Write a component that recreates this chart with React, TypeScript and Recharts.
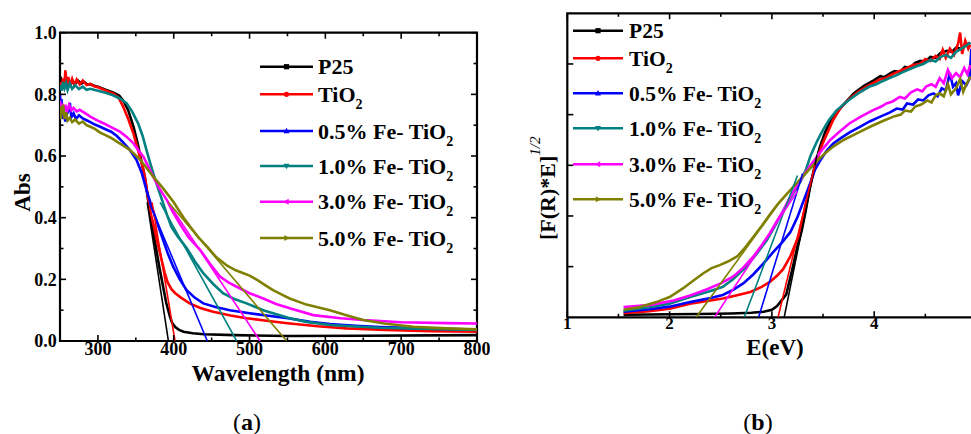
import { Line, LineChart, ReferenceArea, ReferenceLine, XAxis, YAxis } from "recharts";

const SERIF = "'Liberation Serif', 'Times New Roman', serif";

// ---- panel (a): absorbance vs wavelength (nm) ----
const ABS_P25 = [
  [250, 0.83], [252, 0.845], [254, 0.826], [256, 0.842], [258, 0.83], [261, 0.846], [264, 0.832], [267, 0.843],
  [270, 0.834], [274, 0.844], [278, 0.835], [282, 0.84], [286, 0.832], [290, 0.833], [295, 0.828], [300, 0.825],
  [310, 0.815], [320, 0.806], [328, 0.796], [334, 0.778], [340, 0.748], [347, 0.695], [353, 0.635], [358, 0.575],
  [362, 0.53], [366, 0.46], [369, 0.41], [372, 0.37], [376, 0.31], [381, 0.24], [386, 0.176], [390, 0.125],
  [395, 0.079], [398, 0.058], [402, 0.045], [407, 0.036], [413, 0.03], [425, 0.025], [440, 0.022], [480, 0.019],
  [550, 0.016], [650, 0.017], [800, 0.019],
];
const ABS_TIO2 = [
  [250, 0.84], [252, 0.82], [254, 0.852], [256, 0.83], [257, 0.878], [259, 0.832], [261, 0.856], [263, 0.828],
  [266, 0.85], [269, 0.83], [272, 0.848], [276, 0.832], [280, 0.845], [285, 0.83], [290, 0.834], [295, 0.826],
  [300, 0.823], [310, 0.813], [320, 0.803], [327, 0.79], [333, 0.762], [340, 0.72], [347, 0.672], [351, 0.636],
  [355, 0.6], [359, 0.565], [362, 0.533], [366, 0.468], [370, 0.41], [374, 0.37], [379, 0.315], [384, 0.263],
  [388, 0.222], [392, 0.19], [397, 0.168], [402, 0.155], [410, 0.14], [421, 0.122], [435, 0.107], [452, 0.095],
  [475, 0.083], [496, 0.074], [525, 0.065], [553, 0.057], [590, 0.048], [628, 0.041], [680, 0.036], [740, 0.032],
  [800, 0.03],
];
const ABS_FE05 = [
  [250, 0.8], [251, 0.74], [252, 0.785], [253, 0.72], [255, 0.745], [257, 0.712], [259, 0.735], [261, 0.748],
  [263, 0.772], [265, 0.726], [268, 0.738], [271, 0.72], [275, 0.732], [280, 0.722], [285, 0.716], [290, 0.71],
  [296, 0.702], [303, 0.695], [310, 0.687], [318, 0.678], [325, 0.665], [333, 0.645], [342, 0.62], [351, 0.587],
  [358, 0.544], [364, 0.49], [371, 0.436], [377, 0.392], [385, 0.335], [392, 0.285], [399, 0.243], [408, 0.2],
  [417, 0.165], [428, 0.14], [439, 0.122], [455, 0.11], [474, 0.1], [500, 0.09], [530, 0.08], [553, 0.073],
  [580, 0.062], [606, 0.055], [640, 0.049], [672, 0.045], [740, 0.04], [800, 0.037],
];
const ABS_FE10 = [
  [250, 0.83], [252, 0.812], [254, 0.84], [256, 0.82], [258, 0.836], [260, 0.814], [263, 0.835], [266, 0.818],
  [270, 0.83], [275, 0.817], [280, 0.825], [285, 0.815], [290, 0.818], [300, 0.812], [310, 0.805], [320, 0.797],
  [330, 0.785], [338, 0.771], [345, 0.745], [353, 0.706], [359, 0.665], [364, 0.62], [368, 0.585], [373, 0.544],
  [380, 0.49], [386, 0.447], [391, 0.41], [397, 0.37], [405, 0.34], [417, 0.302], [428, 0.258], [439, 0.22],
  [452, 0.185], [465, 0.155], [480, 0.136], [496, 0.122], [520, 0.098], [553, 0.074], [575, 0.062], [606, 0.052],
  [640, 0.047], [672, 0.043], [720, 0.04], [800, 0.036],
];
const ABS_FE30 = [
  [250, 0.78], [251, 0.73], [253, 0.77], [255, 0.745], [257, 0.766], [259, 0.742], [262, 0.766], [265, 0.748],
  [268, 0.756], [272, 0.745], [276, 0.75], [280, 0.744], [285, 0.736], [290, 0.728], [296, 0.72], [303, 0.711],
  [310, 0.703], [318, 0.693], [329, 0.679], [338, 0.662], [347, 0.641], [353, 0.62], [360, 0.598], [366, 0.568],
  [373, 0.533], [381, 0.495], [391, 0.457], [399, 0.418], [408, 0.38], [420, 0.335], [435, 0.295], [448, 0.25],
  [461, 0.209], [472, 0.19], [483, 0.176], [500, 0.155], [518, 0.138], [535, 0.12], [553, 0.106], [584, 0.084],
  [620, 0.074], [650, 0.068], [700, 0.061], [760, 0.058], [800, 0.057],
];
const ABS_FE50 = [
  [250, 0.76], [251, 0.72], [252, 0.752], [254, 0.766], [256, 0.72], [258, 0.742], [260, 0.715], [263, 0.724],
  [266, 0.71], [270, 0.718], [275, 0.705], [280, 0.712], [285, 0.7], [290, 0.695], [296, 0.688], [303, 0.676],
  [310, 0.668], [318, 0.658], [325, 0.647], [334, 0.633], [342, 0.62], [349, 0.604], [356, 0.587], [364, 0.562],
  [373, 0.533], [386, 0.495], [400, 0.45], [413, 0.4], [422, 0.37], [432, 0.338], [444, 0.306], [456, 0.272],
  [470, 0.245], [481, 0.23], [492, 0.22], [500, 0.212], [510, 0.198], [520, 0.182], [531, 0.165], [542, 0.151],
  [553, 0.138], [575, 0.118], [606, 0.1], [630, 0.082], [650, 0.068], [680, 0.056], [716, 0.046], [760, 0.041],
  [800, 0.038],
];
// band-edge tangent lines, panel (a)
const TAN_ABS_P25 = [[365, 0.45], [393, 0]];
const TAN_ABS_TIO2 = [[371.4, 0.45], [401.7, 0]];
const TAN_ABS_FE05 = [[367.6, 0.45], [444.3, 0]];
const TAN_ABS_FE10 = [[382, 0.45], [483, 0]];
const TAN_ABS_FE30 = [[392.4, 0.45], [514, 0]];
const TAN_ABS_FE50 = [[393, 0.45], [549, 0]];

const WL_TICKS = [300, 400, 500, 600, 700, 800];
const WL_MINOR = [350, 450, 550, 650, 750];
const ABS_TICKS = [0, 0.2, 0.4, 0.6, 0.8, 1.0];
const ABS_MINOR = [0.1, 0.3, 0.5, 0.7, 0.9];

// ---- panel (b): Kubelka-Munk [F(R)*E]^1/2 vs E (eV) ----
const KM_P25 = [
  [1.55, 0.05], [1.8, 0.055], [2.0, 0.06], [2.3, 0.065], [2.6, 0.075], [2.8, 0.09], [2.92, 0.11], [3.0, 0.15],
  [3.05, 0.22], [3.09, 0.32], [3.14, 0.45], [3.2, 0.95], [3.25, 1.4], [3.29, 1.7], [3.33, 2.1], [3.37, 2.55],
  [3.42, 3.0], [3.47, 3.37], [3.52, 3.65], [3.57, 3.86], [3.63, 4.03], [3.7, 4.2], [3.8, 4.42], [3.9, 4.57],
  [4.0, 4.68], [4.06, 4.76], [4.1, 4.74], [4.16, 4.82], [4.2, 4.86], [4.25, 4.84], [4.3, 4.94], [4.35, 4.92],
  [4.4, 5.02], [4.45, 5.06], [4.5, 5.05], [4.55, 5.14], [4.6, 5.12], [4.65, 5.22], [4.71, 5.26], [4.76, 5.24],
  [4.8, 5.32], [4.85, 5.3], [4.9, 5.38], [4.94, 5.42],
];
const KM_TIO2 = [
  [1.55, 0.08], [1.8, 0.12], [2.0, 0.17], [2.2, 0.27], [2.4, 0.33], [2.52, 0.37], [2.65, 0.43], [2.79, 0.5],
  [2.9, 0.6], [2.98, 0.7], [3.05, 0.82], [3.11, 0.95], [3.18, 1.2], [3.26, 1.6], [3.3, 1.95], [3.34, 2.32],
  [3.39, 2.72], [3.44, 3.1], [3.49, 3.4], [3.54, 3.63], [3.6, 3.9], [3.67, 4.13], [3.75, 4.3], [3.85, 4.46],
  [3.95, 4.58], [4.05, 4.69], [4.12, 4.73], [4.18, 4.8], [4.25, 4.86], [4.32, 4.92], [4.38, 4.98], [4.45, 5.0],
  [4.5, 5.1], [4.55, 5.06], [4.6, 5.16], [4.64, 5.1], [4.67, 5.28], [4.7, 5.12], [4.74, 5.3], [4.78, 5.18],
  [4.82, 5.4], [4.84, 5.62], [4.86, 5.2], [4.89, 5.46], [4.92, 5.3], [4.94, 5.38],
];
const KM_FE05 = [
  [1.55, 0.11], [1.8, 0.16], [2.0, 0.21], [2.2, 0.3], [2.4, 0.38], [2.52, 0.44], [2.62, 0.54], [2.72, 0.67],
  [2.82, 0.85], [2.92, 1.07], [3.01, 1.28], [3.1, 1.48], [3.18, 1.68], [3.25, 1.98], [3.31, 2.3], [3.37, 2.62],
  [3.42, 2.91], [3.48, 3.12], [3.54, 3.3], [3.6, 3.43], [3.67, 3.53], [3.76, 3.65], [3.86, 3.76], [3.96, 3.87],
  [4.06, 3.96], [4.15, 4.04], [4.22, 4.12], [4.28, 4.1], [4.32, 4.22], [4.38, 4.2], [4.43, 4.3], [4.48, 4.28],
  [4.53, 4.38], [4.58, 4.42], [4.62, 4.36], [4.66, 4.52], [4.7, 4.48], [4.74, 4.82], [4.77, 4.55], [4.8, 4.62],
  [4.82, 4.38], [4.86, 4.66], [4.9, 4.58], [4.93, 4.7], [4.95, 5.3],
];
const KM_FE10 = [
  [1.55, 0.13], [1.8, 0.2], [2.0, 0.27], [2.2, 0.4], [2.4, 0.52], [2.52, 0.6], [2.62, 0.75], [2.75, 1.0],
  [2.85, 1.25], [2.95, 1.52], [3.03, 1.8], [3.11, 2.1], [3.2, 2.42], [3.28, 2.68], [3.33, 2.9], [3.38, 3.2],
  [3.44, 3.47], [3.5, 3.7], [3.56, 3.9], [3.63, 4.08], [3.7, 4.2], [3.76, 4.3], [3.85, 4.43], [3.95, 4.55],
  [4.02, 4.6], [4.08, 4.66], [4.15, 4.72], [4.22, 4.78], [4.28, 4.84], [4.35, 4.9], [4.42, 4.96], [4.48, 5.0],
  [4.55, 5.08], [4.6, 5.05], [4.65, 5.14], [4.7, 5.18], [4.75, 5.12], [4.8, 5.24], [4.85, 5.3], [4.9, 5.36],
  [4.94, 5.42],
];
const KM_FE30 = [
  [1.55, 0.2], [1.8, 0.24], [2.04, 0.33], [2.2, 0.43], [2.36, 0.55], [2.5, 0.67], [2.62, 0.8], [2.72, 0.98],
  [2.82, 1.2], [2.9, 1.42], [2.98, 1.66], [3.05, 1.9], [3.11, 2.1], [3.18, 2.38], [3.24, 2.58], [3.3, 2.77],
  [3.37, 2.98], [3.44, 3.17], [3.5, 3.33], [3.57, 3.5], [3.66, 3.66], [3.76, 3.83], [3.87, 3.96], [3.99, 4.09],
  [4.07, 4.16], [4.12, 4.22], [4.18, 4.26], [4.25, 4.35], [4.3, 4.32], [4.36, 4.44], [4.42, 4.5], [4.47, 4.46],
  [4.51, 4.56], [4.56, 4.6], [4.6, 4.55], [4.64, 4.72], [4.68, 4.62], [4.72, 4.88], [4.76, 4.72], [4.8, 4.82],
  [4.84, 4.74], [4.88, 4.92], [4.91, 4.8], [4.94, 4.98],
];
const KM_FE50 = [
  [1.55, 0.15], [1.7, 0.2], [1.87, 0.3], [2.0, 0.4], [2.13, 0.57], [2.23, 0.72], [2.33, 0.87], [2.41, 0.97],
  [2.49, 1.03], [2.57, 1.1], [2.66, 1.2], [2.74, 1.38], [2.82, 1.59], [2.9, 1.8], [2.98, 2.03], [3.06, 2.24],
  [3.14, 2.42], [3.22, 2.6], [3.3, 2.77], [3.37, 2.93], [3.44, 3.08], [3.52, 3.24], [3.6, 3.37], [3.7, 3.5],
  [3.83, 3.63], [3.96, 3.76], [4.09, 3.88], [4.2, 3.97], [4.26, 4.0], [4.3, 4.08], [4.36, 4.06], [4.4, 4.16],
  [4.46, 4.2], [4.52, 4.28], [4.56, 4.24], [4.6, 4.38], [4.64, 4.42], [4.68, 4.36], [4.72, 4.6], [4.75, 4.4],
  [4.8, 4.52], [4.84, 4.7], [4.87, 4.45], [4.9, 4.6], [4.94, 4.75],
];
// band-gap tangent lines, panel (b)
const TAN_KM_P25 = [[3.12, 0], [3.44, 3.2]];
const TAN_KM_TIO2 = [[3.06, 0], [3.42, 3.0]];
const TAN_KM_FE05 = [[2.87, 0], [3.3, 2.84]];
const TAN_KM_FE10 = [[2.73, 0], [3.25, 2.8]];
const TAN_KM_FE30 = [[2.44, 0], [3.25, 2.49]];
const TAN_KM_FE50 = [[2.26, 0], [3.1, 2.34]];

const E_TICKS = [1, 2, 3, 4]; // 5 sits just past the right edge of the picture
const E_MINOR = [1.5, 2.5, 3.5, 4.5];
const KM_TICKS = [1, 2, 3, 4, 5];

// ---- series styling ----
const NAMES = ["P25", "TiO", "0.5% Fe- TiO", "1.0% Fe- TiO", "3.0% Fe- TiO", "5.0% Fe- TiO"];
const SUB2 = [false, true, true, true, true, true];
const COLORS = ["#000000", "#ff0000", "#0000ff", "#008080", "#ff00ff", "#808000"];
const MARKERS = ["square", "circle", "up", "down", "left", "right"];
const ABS_SERIES = [ABS_P25, ABS_TIO2, ABS_FE05, ABS_FE10, ABS_FE30, ABS_FE50];
const ABS_TANGENTS = [TAN_ABS_P25, TAN_ABS_TIO2, TAN_ABS_FE05, TAN_ABS_FE10, TAN_ABS_FE30, TAN_ABS_FE50];
const KM_SERIES = [KM_P25, KM_TIO2, KM_FE05, KM_FE10, KM_FE30, KM_FE50];
const KM_TANGENTS = [TAN_KM_P25, TAN_KM_TIO2, TAN_KM_FE05, TAN_KM_FE10, TAN_KM_FE30, TAN_KM_FE50];

const toPts = (rows: number[][]) => rows.map(([x, y]) => ({ x, y }));

const tickFont = (size: number) => ({ fontSize: size, fontWeight: 700, fill: "#000", fontFamily: SERIF });

// inward tick marks (majors and minors) drawn as short reference segments;
// ux/uy are data units per pixel so lengths come out in px
function innerTicks(
  id: string,
  xDom: number[],
  yDom: number[],
  ux: number,
  uy: number,
  xMajor: number[],
  xMinor: number[],
  yMajor: number[],
  yMinor: number[],
  sides: { right: boolean },
) {
  const out: any[] = [];
  const seg = (key: string, a: any, b: any) =>
    out.push(
      <ReferenceLine key={id + key} segment={[a, b]} stroke="#000" strokeWidth={1.6} ifOverflow="visible" />,
    );
  const xs = [...xMajor.map((v) => [v, 6]), ...xMinor.map((v) => [v, 3.5])];
  const ys = [...yMajor.map((v) => [v, 6]), ...yMinor.map((v) => [v, 3.5])];
  xs.forEach(([v, len], i) => {
    seg("xb" + i, { x: v, y: yDom[0] }, { x: v, y: yDom[0] + len * uy });
    seg("xt" + i, { x: v, y: yDom[1] }, { x: v, y: yDom[1] - len * uy });
  });
  ys.forEach(([v, len], i) => {
    seg("yl" + i, { x: xDom[0], y: v }, { x: xDom[0] + len * ux, y: v });
    if (sides.right) seg("yr" + i, { x: xDom[1], y: v }, { x: xDom[1] - len * ux, y: v });
  });
  return out;
}

function Marker({ shape, cx, cy, color }: { shape: string; cx: number; cy: number; color: string }) {
  const r = 2.6;
  if (shape === "square") return <rect x={cx - r} y={cy - r} width={2 * r} height={2 * r} fill={color} />;
  if (shape === "circle") return <circle cx={cx} cy={cy} r={r} fill={color} />;
  const pts: Record<string, number[][]> = {
    up: [[cx, cy - r - 0.6], [cx - r - 0.4, cy + r - 0.4], [cx + r + 0.4, cy + r - 0.4]],
    down: [[cx, cy + r + 0.6], [cx - r - 0.4, cy - r + 0.4], [cx + r + 0.4, cy - r + 0.4]],
    left: [[cx - r - 0.6, cy], [cx + r - 0.4, cy - r - 0.4], [cx + r - 0.4, cy + r + 0.4]],
    right: [[cx + r + 0.6, cy], [cx - r + 0.4, cy - r - 0.4], [cx - r + 0.4, cy + r + 0.4]],
  };
  return <polygon points={pts[shape].map((p) => p.join(",")).join(" ")} fill={color} />;
}

function LegendBlock({ x0, x1, tx, rows, size }: { x0: number; x1: number; tx: number; rows: number[]; size: number }) {
  return (
    <g>
      {rows.map((y, i) => (
        <g key={i}>
          <line x1={x0} x2={x1} y1={y} y2={y} stroke={COLORS[i]} strokeWidth={2.6} />
          <Marker shape={MARKERS[i]} cx={(x0 + x1) / 2} cy={y} color={COLORS[i]} />
          <text x={tx} y={y + 7.6} fontFamily={SERIF} fontWeight={700} fontSize={size} fill="#000">
            {NAMES[i]}
            {SUB2[i] && (
              <tspan fontSize={14} dy={7}>
                2
              </tspan>
            )}
          </text>
        </g>
      ))}
    </g>
  );
}

export default function App() {
  const absDom = [250, 800];
  const absY = [0, 1];
  const eDom = [1, 5];
  const kmY = [0, 6];

  return (
    <div
      style={{
        position: "absolute",
        left: 0,
        top: 0,
        width: 971,
        height: 434,
        overflow: "hidden",
        background: "#fff",
      }}
    >
      {/* panel (a) */}
      <div style={{ position: "absolute", left: 0, top: 0 }}>
        <LineChart width={490} height={400} margin={{ top: 32.7, right: 13, bottom: 29, left: 0 }}>
          <XAxis
            type="number"
            dataKey="x"
            domain={absDom}
            ticks={WL_TICKS}
            interval={0}
            allowDataOverflow
            axisLine={false}
            tickLine={false}
            tickSize={0}
            tickMargin={1}
            height={30}
            tick={tickFont(18)}
          />
          <YAxis
            type="number"
            dataKey="y"
            domain={absY}
            ticks={ABS_TICKS}
            interval={0}
            allowDataOverflow
            axisLine={false}
            tickLine={false}
            tickSize={0}
            tickMargin={3.3}
            width={60}
            tick={tickFont(18)}
            tickFormatter={(v: number) => v.toFixed(1)}
          />
          {ABS_SERIES.map((s, i) => (
            <Line
              key={"a" + i}
              data={toPts(s)}
              dataKey="y"
              stroke={COLORS[i]}
              strokeWidth={2.6}
              dot={false}
              isAnimationActive={false}
            />
          ))}
          {ABS_TANGENTS.map((s, i) => (
            <Line
              key={"at" + i}
              data={toPts(s)}
              dataKey="y"
              stroke={COLORS[i]}
              strokeWidth={1.6}
              dot={false}
              isAnimationActive={false}
            />
          ))}
          {innerTicks("a", absDom, absY, 550 / 417, 1 / 308.3, WL_TICKS, WL_MINOR, ABS_TICKS, ABS_MINOR, {
            right: true,
          })}
          <ReferenceArea
            x1={absDom[0]}
            x2={absDom[1]}
            y1={absY[0]}
            y2={absY[1]}
            fill="none"
            stroke="#000"
            strokeWidth={2.2}
            ifOverflow="visible"
          />
        </LineChart>
      </div>

      {/* panel (b) */}
      <div style={{ position: "absolute", left: 480, top: 0 }}>
        <LineChart width={510} height={400} margin={{ top: 13.3, right: 13.5, bottom: 52.7, left: 0 }}>
          <XAxis
            type="number"
            dataKey="x"
            domain={eDom}
            ticks={E_TICKS}
            interval={0}
            allowDataOverflow
            axisLine={false}
            tickLine={false}
            tickSize={0}
            tickMargin={0}
            height={30}
            tick={tickFont(17)}
          />
          <YAxis
            type="number"
            dataKey="y"
            domain={kmY}
            ticks={KM_TICKS}
            allowDataOverflow
            axisLine={false}
            tickLine={false}
            tick={false}
            width={87.3}
          />
          {KM_SERIES.map((s, i) => (
            <Line
              key={"b" + i}
              data={toPts(s)}
              dataKey="y"
              stroke={COLORS[i]}
              strokeWidth={2.6}
              dot={false}
              isAnimationActive={false}
            />
          ))}
          {KM_TANGENTS.map((s, i) => (
            <Line
              key={"bt" + i}
              data={toPts(s)}
              dataKey="y"
              stroke={COLORS[i]}
              strokeWidth={1.6}
              dot={false}
              isAnimationActive={false}
            />
          ))}
          {innerTicks("b", eDom, kmY, 1 / 102.3, 6 / 304, [...E_TICKS, 5], E_MINOR, KM_TICKS, [], {
            right: false,
          })}
          <ReferenceArea
            x1={eDom[0]}
            x2={eDom[1]}
            y1={kmY[0]}
            y2={kmY[1]}
            fill="none"
            stroke="#000"
            strokeWidth={2.2}
            ifOverflow="visible"
          />
        </LineChart>
      </div>

      {/* titles, legends and panel letters */}
      <svg
        width={971}
        height={434}
        style={{ position: "absolute", left: 0, top: 0, pointerEvents: "none" }}
      >
        <LegendBlock x0={260} x1={313} tx={318} rows={[66.7, 94.3, 131, 166, 201.7, 238]} size={22} />
        <LegendBlock x0={573} x1={623} tx={629} rows={[30.7, 58.3, 93.3, 128.3, 164.3, 199.3]} size={21.5} />

        <text
          transform="translate(30,192.5) rotate(-90)"
          textAnchor="middle"
          fontFamily={SERIF}
          fontWeight={700}
          fontSize={23}
        >
          Abs
        </text>
        <text x={278} y={380.5} textAnchor="middle" fontFamily={SERIF} fontWeight={700} fontSize={23.5}>
          Wavelength (nm)
        </text>
        <text x={247} y={430} textAnchor="middle" fontFamily={SERIF} fontSize={24}>
          (<tspan fontWeight={700}>a</tspan>)
        </text>

        <text transform="translate(555,240) rotate(-90)" fontFamily={SERIF} fontWeight={700} fontSize={22}>
          [F(R)*E]
          <tspan fontSize={15} fontWeight={400} fontStyle="italic" dy={-15}>
            1/2
          </tspan>
        </text>
        <text x={775} y={354.5} textAnchor="middle" fontFamily={SERIF} fontWeight={700} fontSize={23}>
          E(eV)
        </text>
        <text x={758} y={430} textAnchor="middle" fontFamily={SERIF} fontSize={24}>
          (<tspan fontWeight={700}>b</tspan>)
        </text>
      </svg>
    </div>
  );
}
